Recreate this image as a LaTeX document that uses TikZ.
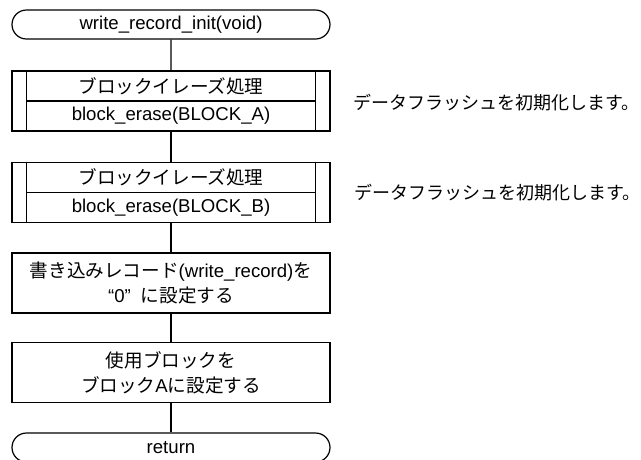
\documentclass[tikz,border=0pt]{standalone}
\usepackage{fontspec}
\setmainfont{Liberation Sans}
\newfontfamily\jp{Noto Sans CJK JP}
\usetikzlibrary{shapes.misc}
\begin{document}
\begin{tikzpicture}[x=1pt,y=-1pt,
  every node/.style={font=\fontsize{18.6}{25}\selectfont, inner sep=0pt},
  line/.style={line width=1.2pt, draw=black},
  term/.style={rounded rectangle, line, minimum width=318pt, minimum height=29pt},
  proc/.style={rectangle, line, minimum width=318pt, minimum height=60pt, align=center},
  subbox/.style={rectangle, line, minimum width=318pt, minimum height=60pt},
  note/.style={anchor=east, font=\fontsize{18}{24}\selectfont\jp}
]
\clip (0,0) rectangle (641,459);
\fill[white] (0,0) rectangle (641,459);

\node[term] (t1) at (171,24.5) {write\_record\_init(void)};

\node[subbox] (b1) at (171,101) {};
\draw[line] ([xshift=15pt]b1.north west) -- ([xshift=15pt]b1.south west);
\draw[line] ([xshift=-15pt]b1.north east) -- ([xshift=-15pt]b1.south east);
\draw[line] ([xshift=15pt]b1.west) -- ([xshift=-15pt]b1.east);
\node (b1a) at ([yshift=15pt]b1.center) {\jp ブロックイレーズ処理};
\node (b1b) at ([yshift=-15pt]b1.center) {block\_erase(BLOCK\_A)};

\node[subbox] (b2) at (171,192.5) {};
\draw[line] ([xshift=15pt]b2.north west) -- ([xshift=15pt]b2.south west);
\draw[line] ([xshift=-15pt]b2.north east) -- ([xshift=-15pt]b2.south east);
\draw[line] ([xshift=15pt]b2.west) -- ([xshift=-15pt]b2.east);
\node (b2a) at ([yshift=15pt]b2.center) {\jp ブロックイレーズ処理};
\node (b2b) at ([yshift=-15pt]b2.center) {block\_erase(BLOCK\_B)};

\node[proc] (p1) at (171,283) {{\jp 書き込みレコード}(write\_record){\jp を}\\“0”\hspace{10pt}{\jp に設定する}};
\node[proc] (p2) at (171,372.5) {{\jp 使用ブロックを}\\{\jp ブロック}A{\jp に設定する}};

\node[term] (t2) at (171,447.5) {return};

\node[note] (n1) at (640,103) {データフラッシュを初期化します。};
\node[note] (n2) at (641,193) {データフラッシュを初期化します。};

\draw[line] (t1) -- (b1);
\draw[line] (b1) -- (b2);
\draw[line] (b2) -- (p1);
\draw[line] (p1) -- (p2);
\draw[line] (p2) -- (t2);
\end{tikzpicture}
\end{document}
